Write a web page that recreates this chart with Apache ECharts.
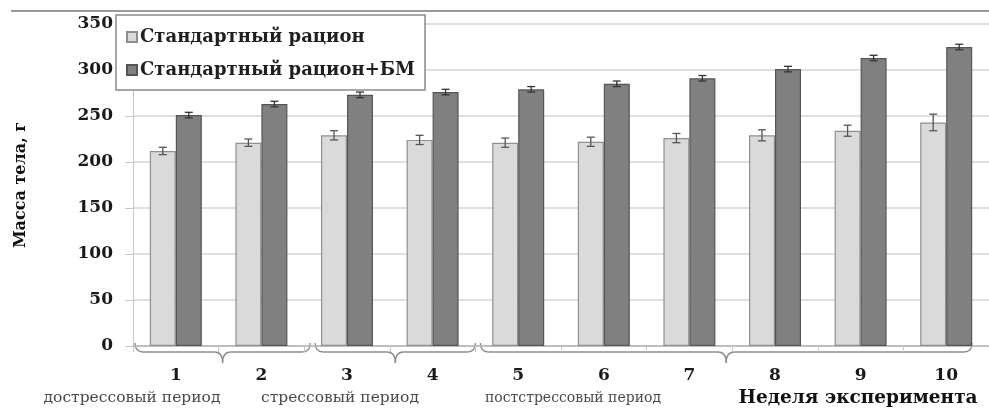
<!DOCTYPE html>
<html>
<head>
<meta charset="utf-8">
<script src="https://cdn.jsdelivr.net/npm/echarts@6/dist/echarts.min.js"></script>
<style>
  html, body { margin: 0; padding: 0; background: #fff; }
  #chart { width: 989px; height: 409px; }
</style>
</head>
<body>
<div id="chart"></div>
<script>
// Body mass of rats by week of the experiment, two diets
const weeks = ['1', '2', '3', '4', '5', '6', '7', '8', '9', '10'];
const seriesNames = ['Стандартный рацион', 'Стандартный рацион+БМ'];
const standardDiet = [212, 221, 229, 224, 221, 222, 226, 229, 234, 243];
const standardDietErr = [4, 4, 5, 5, 5, 5, 5, 6, 6, 9];
const supplementedDiet = [251, 263, 273, 276, 279, 285, 291, 301, 313, 325];
const supplementedDietErr = [3, 3, 3, 3, 3, 3, 3, 3, 3, 3];
const yMin = 0, yMax = 350, yStep = 50;
const yAxisTitle = 'Масса тела, г';
const xAxisTitle = 'Неделя эксперимента';
// Experimental periods: label and the week indices they cover
const periodNames = ['дострессовый период', 'стрессовый период', 'постстрессовый период'];
const periodSpans = [[0, 1], [2, 3], [4, 9]];

const serif = '"DejaVu Serif", "Liberation Serif", serif';
const BAR_W = 26;

const chart = echarts.init(document.getElementById('chart'), null, { renderer: 'canvas' });

function errorSeries(name, values, errs, offset, color) {
  return {
    type: 'custom',
    name: name + ' ошибка',
    z: 5,
    silent: true,
    data: values.map((v, i) => [i, v, errs[i]]),
    renderItem: function (params, api) {
      const i = api.value(0);
      const top = api.coord([i, api.value(1) + api.value(2)]);
      const bot = api.coord([i, api.value(1) - api.value(2)]);
      const x = top[0] + offset;
      const cap = 4;
      const style = { stroke: color, lineWidth: 1.3, fill: null };
      return {
        type: 'group',
        children: [
          { type: 'line', shape: { x1: x, y1: top[1], x2: x, y2: bot[1] }, style: style },
          { type: 'line', shape: { x1: x - cap, y1: top[1], x2: x + cap, y2: top[1] }, style: style },
          { type: 'line', shape: { x1: x - cap, y1: bot[1], x2: x + cap, y2: bot[1] }, style: style }
        ]
      };
    }
  };
}

const option = {
  animation: false,
  backgroundColor: '#fff',
  grid: { left: 133, right: -8, top: 24, bottom: 63, containLabel: false },
  legend: {
    orient: 'vertical',
    left: 116,
    top: 15,
    padding: [12, 10, 10, 10],
    itemGap: 13,
    itemWidth: 10,
    itemHeight: 10,
    icon: 'rect',
    backgroundColor: '#fff',
    borderColor: '#8a8a8a',
    borderWidth: 1.5,
    data: seriesNames,
    textStyle: { fontFamily: serif, fontSize: 18, fontWeight: 'bold', color: '#1f1f1f', lineHeight: 20, padding: [0, 0, 0, -2] }
  },
  xAxis: {
    type: 'category',
    data: weeks,
    boundaryGap: true,
    axisLine: { show: true, lineStyle: { color: '#b5b5b5', width: 1.5 } },
    axisTick: { show: true, length: 6, lineStyle: { color: '#c8c8c8' } },
    axisLabel: { margin: 21, fontFamily: serif, fontSize: 17, fontWeight: 'bold', color: '#1a1a1a' },
    splitLine: { show: false }
  },
  yAxis: {
    type: 'value',
    min: yMin,
    max: yMax,
    interval: yStep,
    name: yAxisTitle,
    nameLocation: 'middle',
    nameGap: 104,
    nameRotate: 90,
    nameTextStyle: { fontFamily: serif, fontSize: 16, fontWeight: 'bold', color: '#111' },
    axisLine: { show: true, lineStyle: { color: '#c8c8c8', width: 1 } },
    axisTick: { show: true, length: 8, lineStyle: { color: '#c8c8c8' } },
    axisLabel: { margin: 20, fontFamily: serif, fontSize: 17, fontWeight: 'bold', color: '#1a1a1a' },
    splitLine: { show: true, lineStyle: { color: '#d4d4d4', width: 1.5 } }
  },
  series: [
    {
      name: seriesNames[0],
      type: 'bar',
      data: standardDiet,
      barWidth: BAR_W,
      barGap: '0%',
      itemStyle: { color: '#dadada', borderColor: '#8f8f8f', borderWidth: 1.2 }
    },
    {
      name: seriesNames[1],
      type: 'bar',
      data: supplementedDiet,
      barWidth: BAR_W,
      barGap: '0%',
      itemStyle: { color: '#808080', borderColor: '#555', borderWidth: 1.2 }
    },
    errorSeries(seriesNames[0], standardDiet, standardDietErr, -BAR_W / 2, '#555'),
    errorSeries(seriesNames[1], supplementedDiet, supplementedDietErr, BAR_W / 2, '#333')
  ]
};

chart.setOption(option);

// Annotations below the axis: curly braces grouping weeks into periods
function catCenter(i) { return chart.convertToPixel({ xAxisIndex: 0 }, i); }
const band = catCenter(1) - catCenter(0);
const braceInsets = [[2, 6], [11, 0], [5, -17]];
const yTop = 343, yLine = 352, yTip = 363;
const braceStyle = { stroke: '#8c8c8c', lineWidth: 1.4, fill: null };

function braceParts(x0, x1) {
  const m = (x0 + x1) / 2;
  const r = 8;
  const curve = (ax, ay, cx, cy, bx, by) => ({
    type: 'bezierCurve', silent: true,
    shape: { x1: ax, y1: ay, x2: bx, y2: by, cpx1: cx, cpy1: cy },
    style: braceStyle
  });
  const seg = (ax, ay, bx, by) => ({
    type: 'line', silent: true,
    shape: { x1: ax, y1: ay, x2: bx, y2: by },
    style: braceStyle
  });
  return [
    curve(x0, yTop, x0, yLine, x0 + r, yLine),
    seg(x0 + r, yLine, m - r, yLine),
    curve(m - r, yLine, m, yLine, m, yTip),
    curve(m, yTip, m, yLine, m + r, yLine),
    seg(m + r, yLine, x1 - r, yLine),
    curve(x1 - r, yLine, x1, yLine, x1, yTop)
  ];
}

let graphics = [];
// thin frame line across the top
graphics.push({
  type: 'line', silent: true,
  shape: { x1: 11, y1: 11, x2: 989, y2: 11 },
  style: { stroke: '#9a9a9a', lineWidth: 2 }
});
periodSpans.forEach((span, k) => {
  const x0 = catCenter(span[0]) - band / 2 + braceInsets[k][0];
  const x1 = catCenter(span[1]) + band / 2 + braceInsets[k][1];
  graphics = graphics.concat(braceParts(x0, x1));
});

const periodLabelX = [132, 340, 573];
const periodLabelSize = [15.5, 15.5, 14];
periodNames.forEach((name, k) => {
  graphics.push({
    type: 'text', silent: true,
    x: periodLabelX[k], y: 398,
    style: { text: name, fontFamily: serif, fontSize: periodLabelSize[k], fill: '#4a4a4a', align: 'center', verticalAlign: 'middle' }
  });
});
graphics.push({
  type: 'text', silent: true,
  x: 858, y: 398,
  style: { text: xAxisTitle, fontFamily: serif, fontSize: 18.5, fontWeight: 'bold', fill: '#111', align: 'center', verticalAlign: 'middle' }
});

chart.setOption({ graphic: graphics });
</script>
</body>
</html>
